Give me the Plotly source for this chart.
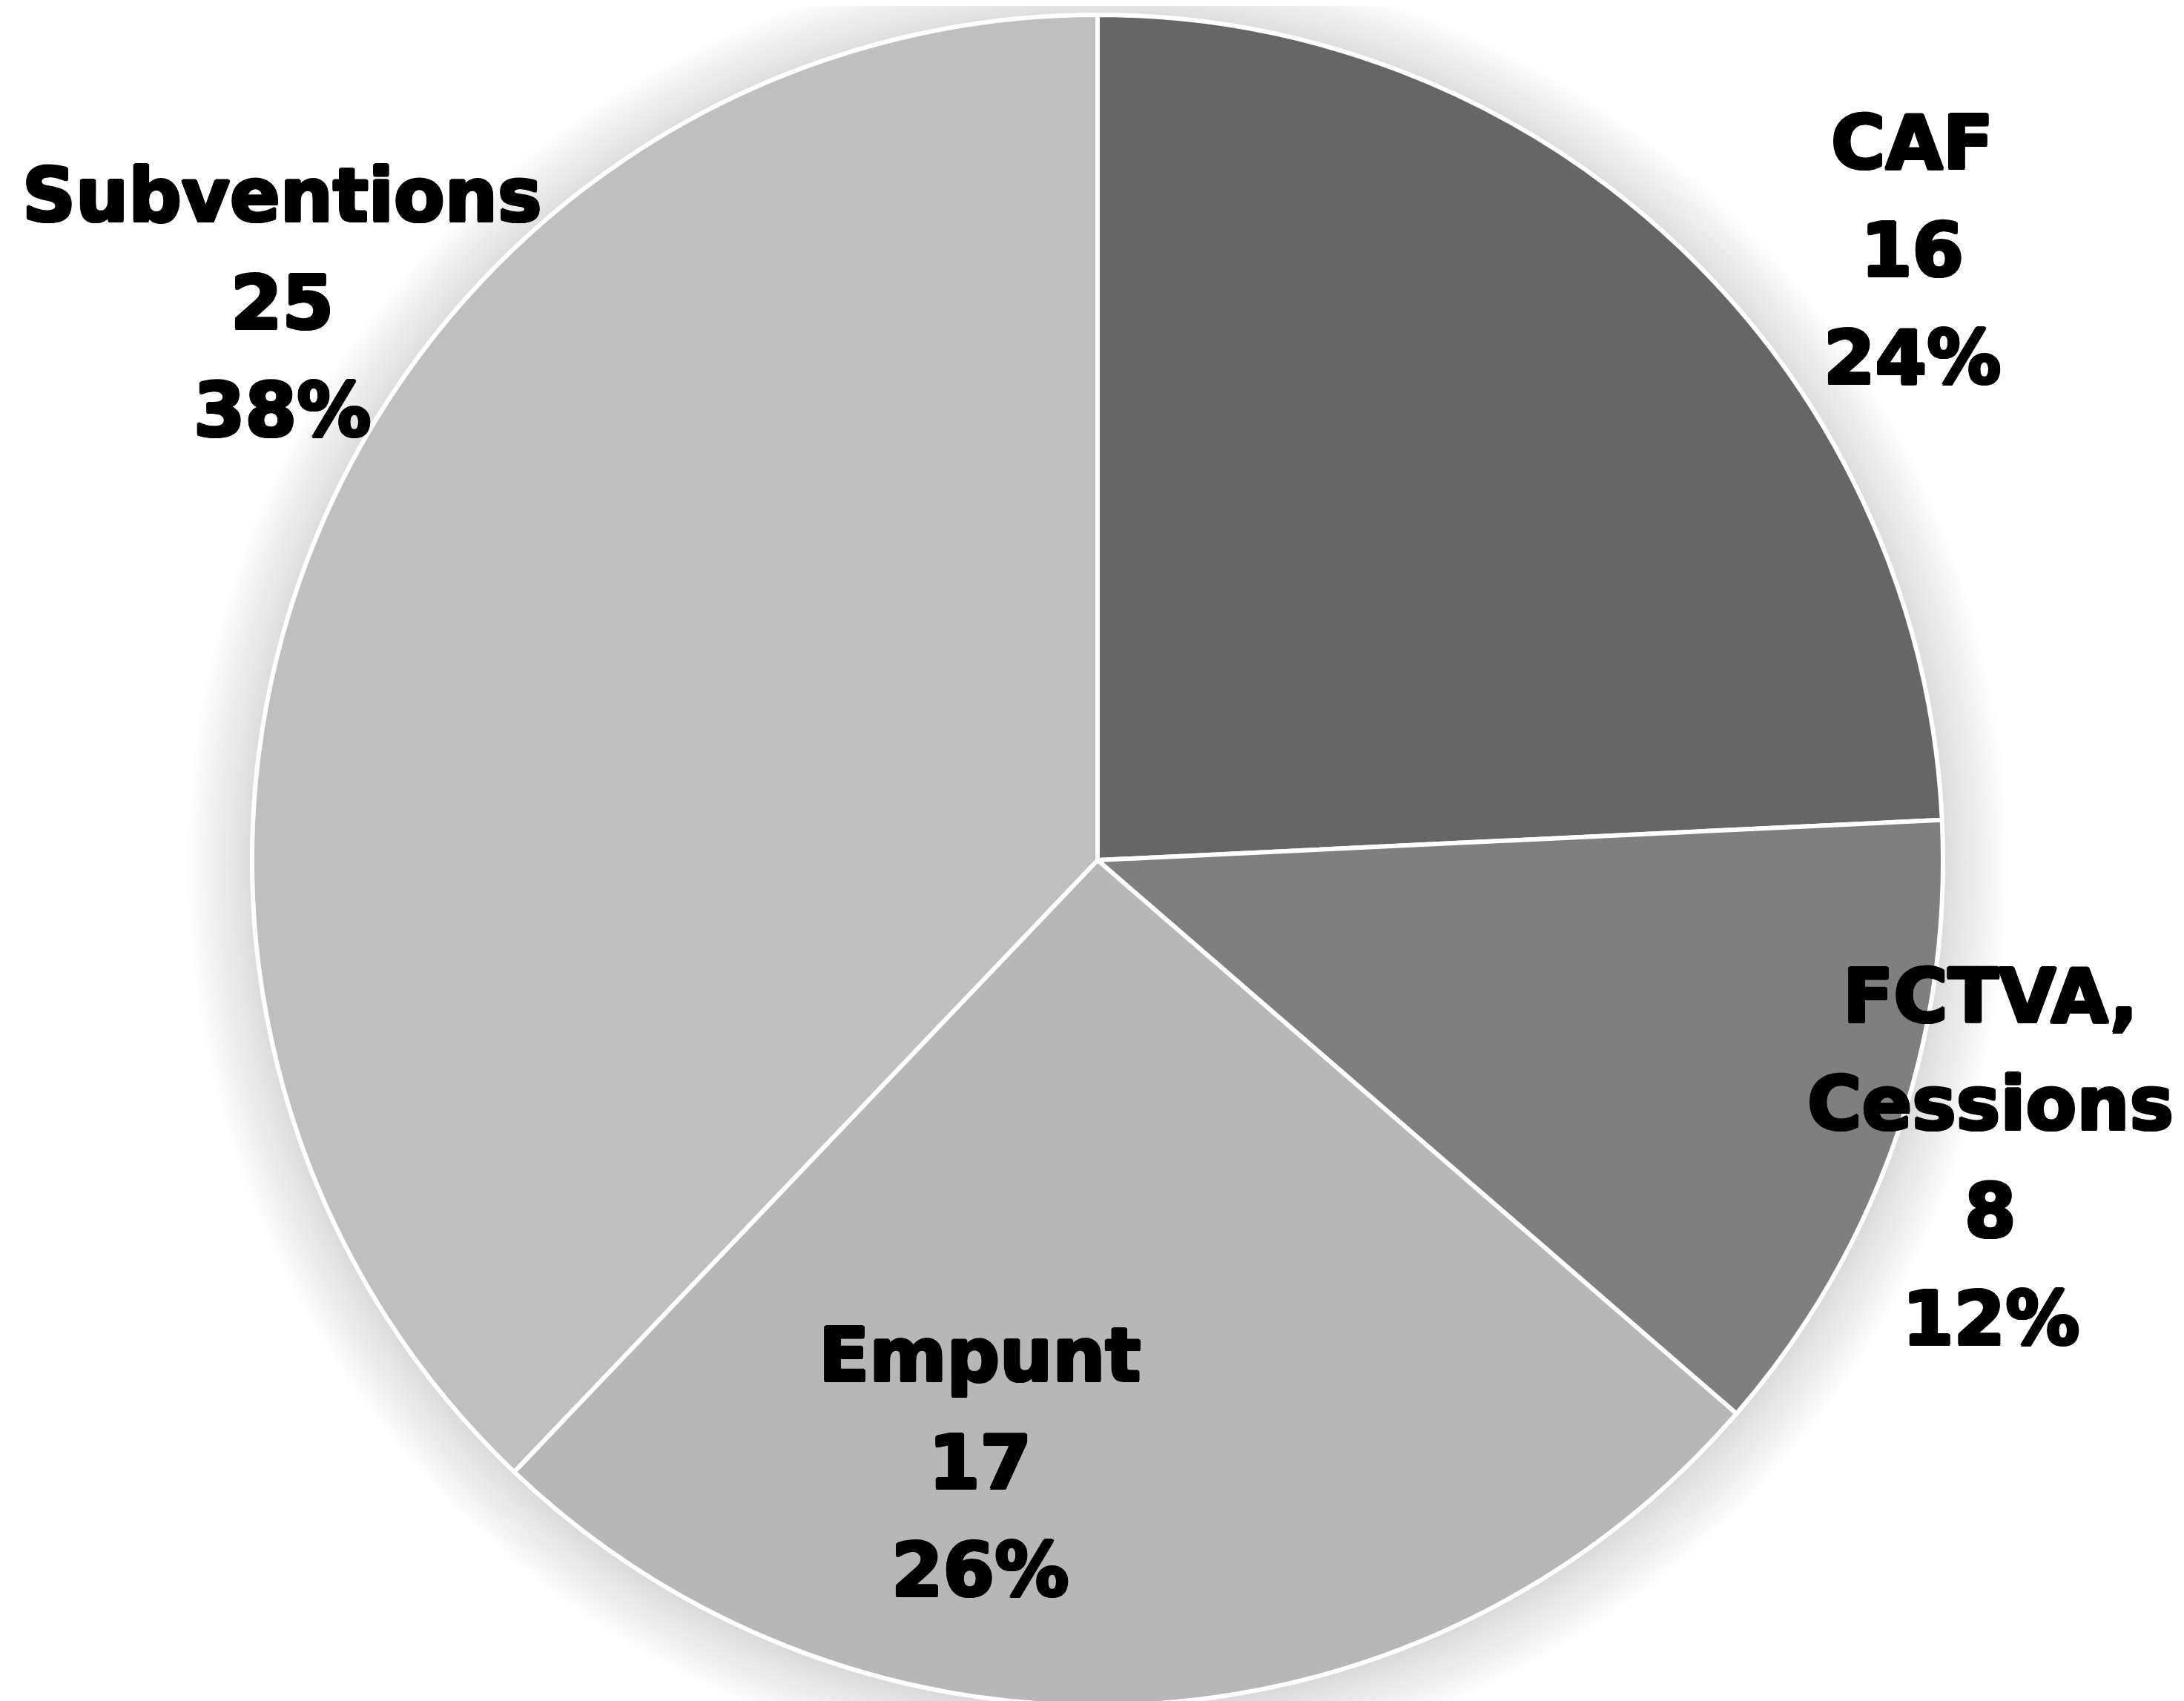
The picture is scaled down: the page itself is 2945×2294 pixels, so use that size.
import plotly.graph_objects as go

labels = ["CAF", "FCTVA, Cessions", "Empunt", "Subventions"]
values = [16, 8, 17, 25]
colors = ["#666666", "#7f7f7f", "#b7b7b7", "#bfbfbf"]

W, H = 2945, 2294
# pie geometry in pixels
cx, cy, R = 1472, 1152, 1140

# label block centers (pixels) and line pitch
label_pos = [(2570, 329), (2676, 1553), (1313, 1964), (372, 400)]
pitch = 145
fsize = 100

def px2paper(x, y):
    return x / W, 1 - y / H

fig = go.Figure()
dx0, dy_top = px2paper(cx - R, cy - R)
dx1, dy_bot = px2paper(cx + R, cy + R)
fig.add_trace(go.Pie(
    labels=labels, values=values, sort=False, direction="clockwise", rotation=0,
    marker=dict(colors=colors, line=dict(color="white", width=6)),
    textinfo="none", hoverinfo="label+value+percent", showlegend=False,
    domain=dict(x=[dx0, dx1], y=[dy_bot, dy_top]),
))

# soft shadow around pie
shapes = []
pcx, pcy = px2paper(cx, cy + 6)
for i in range(18):
    r = R + 2 + i * 5
    shapes.append(dict(type="circle", xref="paper", yref="paper",
                       xsizemode="pixel", ysizemode="pixel",
                       xanchor=pcx, yanchor=pcy,
                       x0=-r, x1=r, y0=-r, y1=r,
                       fillcolor="rgba(0,0,0,0.0075)", line=dict(width=0),
                       layer="below"))

total = sum(values)
stroke = "2px 0 0 #000, -2px 0 0 #000, 0 2px 0 #000, 0 -2px 0 #000, 1.5px 1.5px 0 #000, -1.5px -1.5px 0 #000, 1.5px -1.5px 0 #000, -1.5px 1.5px 0 #000"
annotations = []
for lab, val, (lx, ly) in zip(labels, values, label_pos):
    pct = round(100 * val / total)
    lines = lab.replace(", ", ",|").split("|") + [str(val), f"{pct}%"]
    n = len(lines)
    for i, t in enumerate(lines):
        y = ly + (i - (n - 1) / 2) * pitch
        px, py = px2paper(lx, y)
        annotations.append(dict(x=px, y=py, xref="paper", yref="paper",
                                text=t, showarrow=False, xanchor="center", yanchor="middle",
                                font=dict(family="DejaVu Sans", size=fsize, color="black",
                                          weight="bold", shadow=stroke)))

fig.update_layout(
    width=W, height=H, margin=dict(l=0, r=0, t=0, b=0),
    paper_bgcolor="white", plot_bgcolor="white",
    shapes=shapes, annotations=annotations,
)
fig.write_html("out.html")
